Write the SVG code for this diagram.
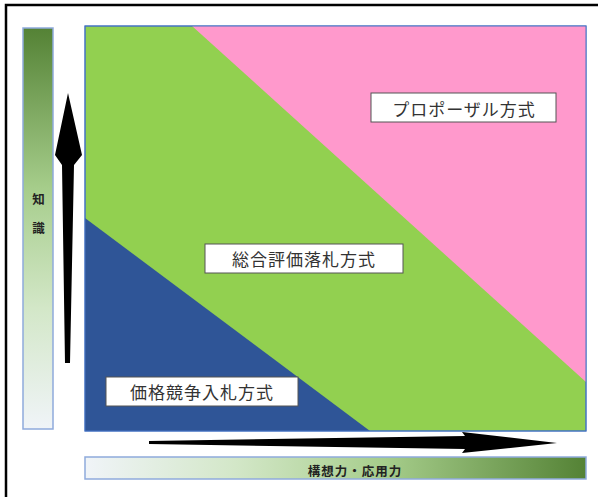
<svg xmlns="http://www.w3.org/2000/svg" width="598" height="497" viewBox="0 0 598 497">
<defs>
<linearGradient id="gv" x1="0" y1="0" x2="0" y2="1">
<stop offset="0" stop-color="#548235"/>
<stop offset="0.4" stop-color="#a6cd8b"/>
<stop offset="0.7" stop-color="#d3e7c8"/>
<stop offset="1" stop-color="#f0f4f8"/>
</linearGradient>
<linearGradient id="gh" x1="0" y1="0" x2="1" y2="0">
<stop offset="0" stop-color="#f0f4f8"/>
<stop offset="0.3" stop-color="#d3e7c8"/>
<stop offset="0.6" stop-color="#a6cd8b"/>
<stop offset="1" stop-color="#548235"/>
</linearGradient>
<style>
.bar{stroke:#8faadc;stroke-width:1.5}
.lbl{fill:#ffffff;stroke:#555555;stroke-width:1}
.lt{font-family:"Noto Sans CJK JP","Noto Sans",sans-serif;font-size:17px;fill:#333333;letter-spacing:1px}
.ax{font-family:"Noto Sans CJK JP","Noto Sans",sans-serif;font-size:12.5px;font-weight:bold;fill:#222222}
</style>
</defs>
<rect x="0" y="0" width="598" height="497" fill="#ffffff"/>
<rect x="6" y="5" width="600" height="500" fill="none" stroke="#000000" stroke-width="2.5"/>
<g id="plot">
<rect x="85" y="26" width="501" height="405" fill="#92d050" stroke="#4472c4" stroke-width="1"/>
<polygon points="192,26 586,26 586,382" fill="#ff99cc"/>
<polygon points="85,218 85,431 370,431" fill="#2f5597"/>
<rect x="85" y="26" width="501" height="405" fill="none" stroke="#4472c4" stroke-width="1"/>
</g>
<g id="axis-knowledge">
<rect class="bar" x="23" y="28" width="30" height="401" fill="url(#gv)"/>
<text class="ax" x="38.5" y="198" text-anchor="middle" dominant-baseline="central">知</text>
<text class="ax" x="38.5" y="227" text-anchor="middle" dominant-baseline="central">識</text>
</g>
<g id="axis-ability">
<rect class="bar" x="85" y="457" width="501" height="22" fill="url(#gh)"/>
<text class="ax" x="355" y="470" text-anchor="middle" dominant-baseline="central" letter-spacing="1">構想力・応用力</text>
</g>
<g id="connectors">
<polygon points="65,363 62,165 55,155 68,93 82,155 74,165 70,363" fill="#000000"/>
<polygon points="149,441 465,436 462,432 557,443 462,453 465,449 149,444" fill="#000000"/>
</g>
<g id="node-proposal">
<rect class="lbl" x="371" y="93" width="185" height="29"/>
<text class="lt" x="464" y="108" text-anchor="middle" dominant-baseline="central">プロポーザル方式</text>
</g>
<g id="node-sougou">
<rect class="lbl" x="205" y="244" width="198" height="29"/>
<text class="lt" x="304" y="258.5" text-anchor="middle" dominant-baseline="central">総合評価落札方式</text>
</g>
<g id="node-kakaku">
<rect class="lbl" x="106" y="377" width="192" height="29"/>
<text class="lt" x="202" y="391.5" text-anchor="middle" dominant-baseline="central">価格競争入札方式</text>
</g>
</svg>
